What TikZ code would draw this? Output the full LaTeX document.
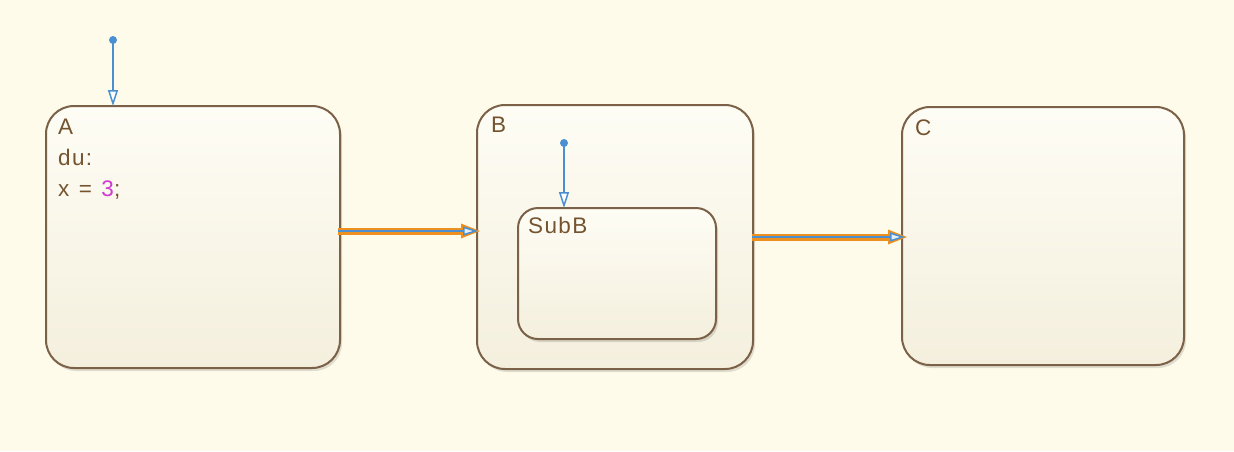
\documentclass[tikz,border=0pt]{standalone}
\usepackage{fontspec}
\setmainfont{Liberation Sans}
\newfontfamily\statefont[LetterSpace=6]{Liberation Sans}
\usetikzlibrary{arrows.meta,shadows}
\definecolor{bg}{HTML}{FFFBEB}
\definecolor{stborder}{HTML}{7B6148}
\definecolor{sttop}{HTML}{FEFDF5}
\definecolor{stbot}{HTML}{F4EFDD}
\definecolor{txt}{HTML}{74542F}
\definecolor{num}{HTML}{D03AD0}
\definecolor{tblue}{HTML}{4A8FD0}
\definecolor{torange}{HTML}{EE9020}
\definecolor{tipfill}{HTML}{E6EEF6}
\tikzset{
  statebox/.style={draw=stborder, line width=2pt, rounded corners=#1,
    top color=sttop, bottom color=stbot, inner sep=0pt,
    drop shadow={shadow xshift=2pt, shadow yshift=-3pt, opacity=0.12, fill=black}},
  statelbl/.style={anchor=north west, text=txt, font=\statefont\fontsize{22.5}{31}\selectfont, inner sep=0pt, align=left},
  dotnode/.style={circle, fill=tblue, inner sep=0pt, minimum size=8pt},
  deftrans/.style={draw=tblue, line width=1.8pt, -{Triangle[open, length=16pt, width=10pt, line width=1.5pt, fill=white]}},
  halo/.style={draw=torange, line width=7pt, -{Triangle[length=19pt, width=15pt, line width=0pt]}},
  trans/.style={draw=tblue, line width=2pt, -{Triangle[open, length=15pt, width=9pt, line width=1.5pt, fill=tipfill]}},
}
\begin{document}
\begin{tikzpicture}[x=1pt, y=-1pt]
\useasboundingbox (0,0) rectangle (1234,451);
\fill[bg] (0,0) rectangle (1234,451);
% states
\node[statebox=28pt, minimum width=294pt, minimum height=262pt] (A) at (193,237) {};
\node[statebox=28pt, minimum width=276pt, minimum height=264pt] (B) at (615,237) {};
\node[statebox=20pt, minimum width=198pt, minimum height=131pt] (SubB) at (617,273.5) {};
\node[statebox=28pt, minimum width=282pt, minimum height=258pt] (C) at (1043,236) {};
% labels
\node[statelbl] (Alab) at (58,119) {A\\du:\\x\hspace{0.42em}=\hspace{0.42em}{\color{num}3};};
\node[statelbl] (Blab) at (491,117) {B};
\node[statelbl] (SubBlab) at (528,217) {SubB};
\node[statelbl] (Clab) at (915,120) {C};
% default transitions
\node[dotnode] (dA) at (113,40) {};
\coordinate (eA) at (113,106);
\draw[deftrans] (dA.center) -- (eA);
\node[dotnode] (dB) at (564,143) {};
\coordinate (eB) at (564,208);
\draw[deftrans] (dB.center) -- (eB);
% transitions
\coordinate (t1s) at (338,231);
\coordinate (t1e) at (478,231);
\coordinate (t1h) at (480,231);
\draw[halo] (t1s) -- (t1h);
\draw[trans] (t1s) -- (t1e);
\coordinate (t2s) at (752,237);
\coordinate (t2e) at (905,237);
\coordinate (t2h) at (907,237);
\draw[halo] (t2s) -- (t2h);
\draw[trans] (t2s) -- (t2e);
\end{tikzpicture}
\end{document}
